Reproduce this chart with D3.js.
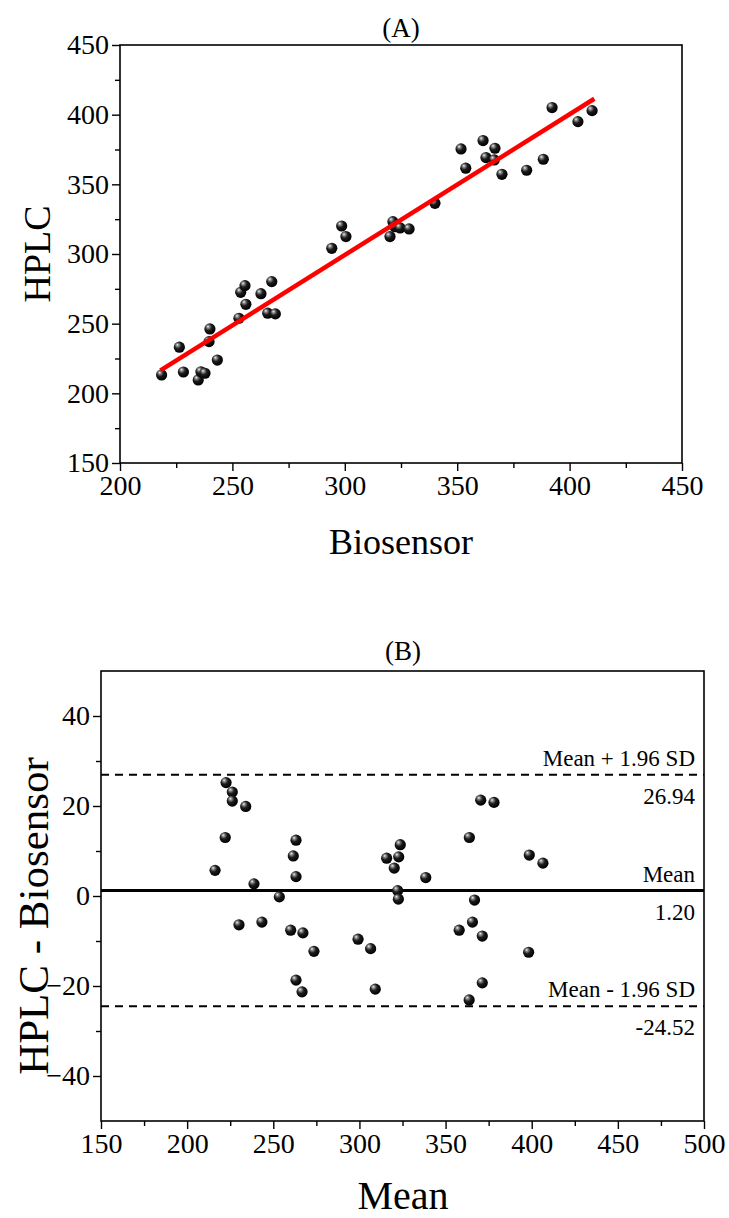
<!DOCTYPE html>
<html>
<head>
<meta charset="utf-8">
<script src="https://cdn.jsdelivr.net/npm/d3@7"></script>
<style>
  body { margin: 0; background: #fff; }
  svg text { font-family: "Liberation Serif", "Times New Roman", serif; fill: #000; }
  .frame { fill: none; stroke: #000; stroke-width: 1.6; }
  .tick line { stroke: #000; stroke-width: 1.4; }
</style>
</head>
<body>
<div id="chart"></div>
<script>
// panel A: HPLC vs biosensor
const biosensorA = [218.5, 226.4, 228.2, 234.8, 236.0, 237.8, 240.0, 239.6, 243.3, 252.9,
  253.7, 255.6, 256.0, 262.7, 267.5, 265.7, 269.1, 294.2, 298.6, 300.5,
  320.1, 321.4, 322.3, 324.6, 328.6, 340.1, 351.7, 353.8, 361.5, 362.8,
  366.8, 366.5, 369.9, 380.9, 388.3, 392.2, 403.7, 410.0];
const hplcA = [213.2, 233.1, 215.3, 209.6, 215.5, 214.4, 246.2, 237.1, 223.9, 253.9,
  272.5, 277.3, 263.9, 271.5, 280.2, 257.5, 257.0, 304.1, 320.1, 312.5,
  312.5, 323.2, 319.6, 318.7, 318.0, 336.4, 375.4, 361.6, 381.4, 369.2,
  375.9, 367.5, 357.2, 360.1, 368.0, 405.1, 395.0, 402.9];
const fitSlope = 1.01;
const fitIntercept = -3.7;
const fitRange = [218, 411];

// panel B: Bland-Altman
const meanB = [222.6, 226.2, 226.2, 234.0, 222.1, 263.2, 261.6, 216.2, 263.2, 238.8,
  253.5, 230.1, 243.4, 260.1, 267.2, 273.6, 263.2, 266.7, 299.2, 306.5,
  309.2, 323.7, 315.8, 322.8, 320.2, 338.5, 322.2, 322.6, 370.4, 378.1,
  363.8, 366.8, 365.6, 357.9, 371.3, 371.3, 363.7, 398.6, 406.5, 398.2];
const diffB = [25.2, 23.1, 21.1, 19.9, 13.0, 12.4, 8.9, 5.7, 4.3, 2.7,
  -0.2, -6.4, -5.8, -7.6, -8.2, -12.3, -18.7, -21.3, -9.6, -11.7,
  -20.7, 11.4, 8.4, 8.7, 6.2, 4.1, 1.2, -0.7, 21.3, 20.8,
  13.0, -0.9, -5.8, -7.6, -8.9, -19.3, -23.1, 9.1, 7.3, -12.5];
const limitNames = ["Mean + 1.96 SD", "Mean", "Mean - 1.96 SD"];
const limitValues = [26.94, 1.20, -24.52];

const xTicksA = [200, 250, 300, 350, 400, 450];
const yTicksA = [150, 200, 250, 300, 350, 400, 450];
const xTicksB = [150, 200, 250, 300, 350, 400, 450, 500];
const yTicksB = [-40, -20, 0, 20, 40];

const W = 729, H = 1218;
const FONT = '"Liberation Serif", "Times New Roman", serif';
const svg = d3.select("#chart").append("svg").attr("width", W).attr("height", H);

// shiny black ball marker
const grad = svg.append("defs").append("radialGradient")
  .attr("id", "ball").attr("cx", "40%").attr("cy", "38%").attr("r", "62%")
  .attr("fx", "32%").attr("fy", "28%");
grad.append("stop").attr("offset", "0%").attr("stop-color", "#f2f2f2");
grad.append("stop").attr("offset", "20%").attr("stop-color", "#8a8a8a");
grad.append("stop").attr("offset", "50%").attr("stop-color", "#1c1c1c");
grad.append("stop").attr("offset", "100%").attr("stop-color", "#000");

function minorTicks(major) {
  let out = [];
  for (let i = 0; i < major.length - 1; i++) out.push((major[i] + major[i + 1]) / 2);
  return out;
}

function styleLabels(sel) {
  sel.selectAll("text")
    .style("font-family", FONT)
    .style("font-size", "28px");
}

function drawFrame(g, x, y, xt, yt, box) {
  g.append("g").attr("transform", "translate(0," + box.b + ")")
    .call(d3.axisBottom(x).tickValues(minorTicks(xt)).tickSize(5).tickFormat(""))
    .call(a => a.select(".domain").remove());
  g.append("g").attr("transform", "translate(" + box.l + ",0)")
    .call(d3.axisLeft(y).tickValues(minorTicks(yt)).tickSize(5).tickFormat(""))
    .call(a => a.select(".domain").remove());
  g.append("g").attr("transform", "translate(0," + box.b + ")")
    .call(d3.axisBottom(x).tickValues(xt).tickSize(8).tickPadding(4))
    .call(a => a.select(".domain").remove())
    .call(styleLabels);
  g.append("g").attr("transform", "translate(" + box.l + ",0)")
    .call(d3.axisLeft(y).tickValues(yt).tickSize(8).tickPadding(3))
    .call(a => a.select(".domain").remove())
    .call(styleLabels);
  g.append("rect").attr("class", "frame")
    .attr("x", box.l).attr("y", box.t)
    .attr("width", box.r - box.l).attr("height", box.b - box.t);
}

// ---------- panel A ----------
const boxA = {l: 120, r: 682, t: 45, b: 463};
const xA = d3.scaleLinear().domain([200, 450]).range([boxA.l, boxA.r]);
const yA = d3.scaleLinear().domain([150, 450]).range([boxA.b, boxA.t]);
const gA = svg.append("g");
drawFrame(gA, xA, yA, xTicksA, yTicksA, boxA);

gA.selectAll("circle.pt").data(biosensorA).enter().append("circle")
  .attr("class", "pt")
  .attr("cx", d => xA(d))
  .attr("cy", (d, i) => yA(hplcA[i]))
  .attr("r", 5.6)
  .attr("fill", "url(#ball)");

gA.append("line")
  .attr("x1", xA(fitRange[0])).attr("y1", yA(fitSlope * fitRange[0] + fitIntercept))
  .attr("x2", xA(fitRange[1])).attr("y2", yA(fitSlope * fitRange[1] + fitIntercept))
  .attr("stroke", "#ff0000").attr("stroke-width", 4.5);

gA.append("text").attr("x", 401).attr("y", 37).attr("text-anchor", "middle")
  .attr("font-size", 27).text("(A)");
gA.append("text").attr("x", 401).attr("y", 554).attr("text-anchor", "middle")
  .attr("font-size", 36).text("Biosensor");
gA.append("text").attr("transform", "translate(50,254) rotate(-90)")
  .attr("text-anchor", "middle").attr("font-size", 38).text("HPLC");

// ---------- panel B ----------
const boxB = {l: 101, r: 704, t: 671, b: 1121};
const xB = d3.scaleLinear().domain([150, 500]).range([boxB.l, boxB.r]);
const yB = d3.scaleLinear().domain([-50, 50]).range([boxB.b, boxB.t]);
const gB = svg.append("g");
drawFrame(gB, xB, yB, xTicksB, yTicksB, boxB);

limitValues.forEach((v, i) => {
  gB.append("line")
    .attr("x1", boxB.l).attr("x2", boxB.r)
    .attr("y1", yB(v)).attr("y2", yB(v))
    .attr("stroke", "#000")
    .attr("stroke-width", i === 1 ? 3 : 2)
    .attr("stroke-dasharray", i === 1 ? null : "8,6");
  gB.append("text").attr("x", boxB.r - 9).attr("y", yB(v) - 9)
    .attr("text-anchor", "end").attr("font-size", 23).text(limitNames[i]);
  gB.append("text").attr("x", boxB.r - 9).attr("y", yB(v) + 29)
    .attr("text-anchor", "end").attr("font-size", 23).text(limitValues[i].toFixed(2));
});

gB.selectAll("circle.pt").data(meanB).enter().append("circle")
  .attr("class", "pt")
  .attr("cx", d => xB(d))
  .attr("cy", (d, i) => yB(diffB[i]))
  .attr("r", 5.6)
  .attr("fill", "url(#ball)");

gB.append("text").attr("x", 403).attr("y", 660).attr("text-anchor", "middle")
  .attr("font-size", 27).text("(B)");
gB.append("text").attr("x", 403).attr("y", 1209).attr("text-anchor", "middle")
  .attr("font-size", 40).text("Mean");
gB.append("text").attr("transform", "translate(48,916) rotate(-90)")
  .attr("text-anchor", "middle").attr("font-size", 43).text("HPLC - Biosensor");
</script>
</body>
</html>
